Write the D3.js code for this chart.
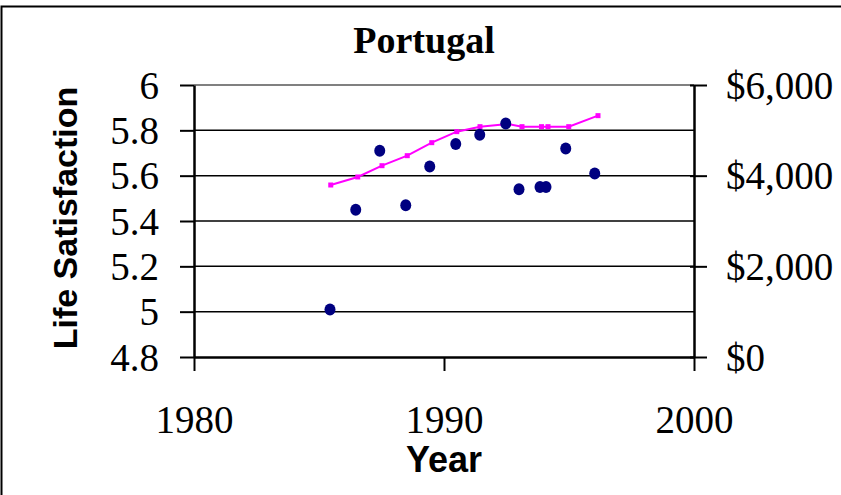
<!DOCTYPE html>
<html>
<head>
<meta charset="utf-8">
<script src="https://cdn.jsdelivr.net/npm/d3@7"></script>
<style>
    body { margin: 0; background: #fff; }
    svg { display: block; }
    .tick text { font-family: "Liberation Serif", "Times New Roman", serif; fill: #000; }
</style>
</head>
<body>
<svg id="chart" width="841" height="495"></svg>
<script>
// life satisfaction survey points
var lsYears = [1985.44, 1986.47, 1987.43, 1988.47, 1989.43, 1990.47, 1991.43, 1992.47, 1993.0, 1993.84, 1994.08, 1994.87, 1996.03];
var lsValues = [5.01, 5.45, 5.71, 5.47, 5.64, 5.74, 5.78, 5.83, 5.54, 5.55, 5.55, 5.72, 5.61];

// GDP per capita (right axis)
var gdpYears = [1985.47, 1986.55, 1987.52, 1988.53, 1989.51, 1990.51, 1991.44, 1992.55, 1993.12, 1993.9, 1994.16, 1994.99, 1996.16];
var gdpValues = [3794, 3971, 4220, 4441, 4728, 4971, 5081, 5140, 5081, 5081, 5081, 5081, 5324];

var xTicks = [1980, 1990, 2000];
var lsTicks = [4.8, 5, 5.2, 5.4, 5.6, 5.8, 6];
var gdpTicks = [0, 2000, 4000, 6000];

var svg = d3.select('#chart');

var x = d3.scaleLinear().domain([1980, 2000]).range([194, 694]);
var yL = d3.scaleLinear().domain([4.8, 6]).range([357, 85]);
var yR = d3.scaleLinear().domain([0, 6000]).range([357, 85]);

// outer frame (only top and left show in the picture)
svg.append('path')
    .attr('d', 'M1.5,900 L1.5,6.5 L900,6.5')
    .attr('fill', 'none')
    .attr('stroke', '#000')
    .attr('stroke-width', 2);

// gridlines
svg.append('g')
    .selectAll('line')
    .data(lsTicks.filter(function(d) { return d > 4.8 && d < 6; }))
    .enter()
    .append('line')
    .attr('x1', x(1980))
    .attr('x2', x(2000))
    .attr('y1', function(d) { return yL(d); })
    .attr('y2', function(d) { return yL(d); })
    .attr('stroke', '#000')
    .attr('stroke-width', 1.5);

// plot area top border
svg.append('line')
    .attr('x1', x(1980)).attr('x2', x(2000))
    .attr('y1', yL(6)).attr('y2', yL(6))
    .attr('stroke', '#808080')
    .attr('stroke-width', 2);

//axes
var xAxis = svg.append('g')
    .attr('transform', 'translate(0,' + yL(4.8) + ')')
    .call(d3.axisBottom(x).tickValues(xTicks).tickFormat(d3.format('d')).tickSize(14).tickSizeOuter(0).tickPadding(40));

var leftAxis = svg.append('g')
    .attr('transform', 'translate(' + x(1980) + ',0)')
    .call(d3.axisLeft(yL).tickValues(lsTicks).tickFormat(function(d) { return d3.format('')(+d.toFixed(1)); }).tickSize(14).tickSizeOuter(0).tickPadding(21));

var rightAxis = svg.append('g')
    .attr('transform', 'translate(' + x(2000) + ',0)')
    .call(d3.axisRight(yR).tickValues(gdpTicks).tickFormat(function(d) { return '$' + d3.format(',')(d); }).tickSize(13).tickSizeOuter(0).tickPadding(19));

rightAxis.selectAll('.tick line').attr('x1', -4);

[xAxis, leftAxis, rightAxis].forEach(function(a) {
    a.select('.domain').attr('stroke', '#000').attr('stroke-width', 2.5);
    a.selectAll('.tick line').attr('stroke', '#000').attr('stroke-width', 2);
    a.selectAll('.tick text').style('font-size', '39px');
});
xAxis.selectAll('.tick text').attr('dy', 0).attr('y', 76);
leftAxis.selectAll('.tick text').attr('dy', '0.34em');
rightAxis.selectAll('.tick text').attr('dy', '0.34em');

// GDP line
var line = d3.line()
    .x(function(d, i) { return x(gdpYears[i]); })
    .y(function(d) { return yR(d); });

svg.append('path')
    .datum(gdpValues)
    .attr('d', line)
    .attr('fill', 'none')
    .attr('stroke', '#ff00ff')
    .attr('stroke-width', 2);

svg.append('g')
    .selectAll('rect')
    .data(gdpValues)
    .enter()
    .append('rect')
    .attr('x', function(d, i) { return x(gdpYears[i]) - 2.5; })
    .attr('y', function(d) { return yR(d) - 2.5; })
    .attr('width', 5)
    .attr('height', 5)
    .attr('fill', '#ff00ff');

// life satisfaction dots
svg.append('g')
    .selectAll('ellipse')
    .data(lsValues)
    .enter()
    .append('ellipse')
    .attr('cx', function(d, i) { return x(lsYears[i]); })
    .attr('cy', function(d) { return yL(d); })
    .attr('rx', 5.5)
    .attr('ry', 6)
    .attr('fill', '#000080');

// titles
svg.append('text')
    .attr('x', 424)
    .attr('y', 53)
    .attr('text-anchor', 'middle')
    .style('font-family', '"Liberation Serif", "Times New Roman", serif')
    .style('font-weight', 'bold')
    .style('font-size', '38px')
    .text('Portugal');

svg.append('text')
    .attr('x', 444)
    .attr('y', 472)
    .attr('text-anchor', 'middle')
    .style('font-family', '"Liberation Sans", Arial, sans-serif')
    .style('font-weight', 'bold')
    .style('font-size', '36px')
    .text('Year');

svg.append('text')
    .attr('transform', 'translate(77,218) rotate(-90)')
    .attr('text-anchor', 'middle')
    .style('font-family', '"Liberation Sans", Arial, sans-serif')
    .style('font-weight', 'bold')
    .style('font-size', '34px')
    .text('Life Satisfaction');
</script>
</body>
</html>
